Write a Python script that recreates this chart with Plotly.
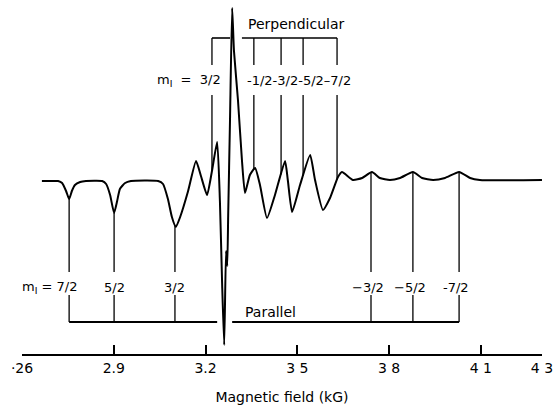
import numpy as np
import plotly.graph_objects as go

# Spectrum (magnetic field in kG, derivative signal in arbitrary units, baseline = 0)
field = [2.665, 2.698, 2.718, 2.731, 2.744, 2.754, 2.763, 2.773, 2.790, 2.809,
         2.862, 2.875, 2.888, 2.901, 2.911, 2.920, 2.937, 2.956, 3.045, 3.061,
         3.077, 3.090, 3.103, 3.117, 3.143, 3.169, 3.185, 3.205, 3.221, 3.238,
         3.247, 3.254, 3.261, 3.267, 3.271, 3.274, 3.280, 3.287, 3.293, 3.306,
         3.319, 3.329, 3.345, 3.362, 3.378, 3.401, 3.427, 3.460, 3.469, 3.483,
         3.509, 3.542, 3.558, 3.584, 3.607, 3.633, 3.646, 3.682, 3.712, 3.744,
         3.770, 3.803, 3.836, 3.878, 3.908, 3.944, 3.983, 4.029, 4.065, 4.097,
         4.300]
signal = [0, 0, 0, -2, -10, -18, -10, -4, -1, 0,
          0, -3, -14, -32, -20, -8, -2, 0, 0, -3,
          -18, -36, -46, -36, -10, 20, 5, -14, 10, 39,
          -20, -100, -164, -70, -85, -35, 61, 173, 130, 81,
          21, -12, 6, 13, -4, -37, -14, 20, 1, -31,
          -4, 26, 1, -29, -17, 4, 9, 1, 3, 9,
          3, 1, 3, 9, 3, 1, 3, 9, 3, 1,
          1]

# Perpendicular lines
perp_fields = [3.221, 3.358, 3.447, 3.519, 3.630]
perp_labels = ["3/2", "-1/2", "-3/2", "-5/2", "\u20137/2"]

# Parallel lines
par_fields = [2.754, 2.901, 3.100, 3.741, 3.878, 4.029]
par_labels = ["7/2", "5/2", "3/2", "\u22123/2", "\u22125/2", "-7/2"]

# Axis
tick_vals = [2.6, 2.9, 3.2, 3.5, 3.8, 4.1, 4.3]
tick_text = ["\u00b726", "2.9", "3.2", "3 5", "3 8", "4 1", "4 3"]
x_title = "Magnetic field (kG)"

FONT = "DejaVu Sans"
fig = go.Figure()

fig.add_trace(go.Scatter(x=field, y=signal, mode="lines",
                         line=dict(color="black", width=2, shape="spline", smoothing=0.5),
                         hoverinfo="skip", showlegend=False))

# perpendicular sticks
px, py = [], []
for f in perp_fields:
    yc = float(np.interp(f, field, signal))
    px += [f, f, None, f, f, None]
    py += [143, 116, None, 86, yc, None]
fig.add_trace(go.Scatter(x=px, y=py, mode="lines", line=dict(color="black", width=1.3),
                         hoverinfo="skip", showlegend=False))
# perpendicular bracket
fig.add_trace(go.Scatter(x=[perp_fields[0], 3.280, None, 3.319, perp_fields[-1]],
                         y=[143, 143, None, 143, 143], mode="lines",
                         line=dict(color="black", width=1.6), hoverinfo="skip", showlegend=False))

# parallel sticks
qx, qy = [], []
for f in par_fields:
    yc = float(np.interp(f, field, signal))
    qx += [f, f, None, f, f, None]
    qy += [yc, -91, None, -114, -141, None]
fig.add_trace(go.Scatter(x=qx, y=qy, mode="lines", line=dict(color="black", width=1.3),
                         hoverinfo="skip", showlegend=False))
fig.add_trace(go.Scatter(x=[par_fields[0], 3.238, None, 3.287, par_fields[-1]],
                         y=[-141, -141, None, -141, -141], mode="lines",
                         line=dict(color="black", width=2), hoverinfo="skip", showlegend=False))

ann = []
tf = dict(family=FONT, size=13, color="black")
ann.append(dict(x=3.4975, y=157, text="Perpendicular", showarrow=False,
                font=dict(family=FONT, size=14, color="black")))
ann.append(dict(x=3.414, y=-131, text="Parallel", showarrow=False,
                font=dict(family=FONT, size=14, color="black")))
ann.append(dict(x=perp_fields[0], y=101, text="m<sub>I</sub>  =  " + perp_labels[0],
                showarrow=False, xanchor="right", xshift=11, font=tf))
ann.append(dict(x=3.329, y=101, text="".join(perp_labels[1:]), showarrow=False,
                xanchor="left", font=tf))
ann.append(dict(x=par_fields[0], y=-106, text="m<sub>I</sub> = " + par_labels[0],
                showarrow=False, xanchor="right", xshift=10, font=tf))
for f, lab in zip(par_fields[1:], par_labels[1:]):
    ann.append(dict(x=f, y=-106, text=lab, showarrow=False,
                    xshift=-3 if lab[0] not in "35" else 0, font=tf))

fig.update_layout(
    width=553, height=407,
    margin=dict(l=22, r=11, t=0, b=53, autoexpand=False),
    paper_bgcolor="white", plot_bgcolor="white",
    annotations=ann,
    xaxis=dict(range=[2.5999, 4.3001], tickvals=tick_vals, ticktext=tick_text,
               ticks="inside", ticklen=9, tickwidth=1.5, tickcolor="black",
               ticklabeloverflow="allow",
               showline=True, linecolor="black", linewidth=1.5,
               showgrid=False, zeroline=False, automargin=False,
               tickfont=dict(family=FONT, size=14, color="black"),
               title=dict(text=x_title, standoff=18,
                          font=dict(family=FONT, size=14, color="black"))),
    yaxis=dict(range=[-173, 181], visible=False, showgrid=False, zeroline=False),
)

fig.write_html("out.html")
